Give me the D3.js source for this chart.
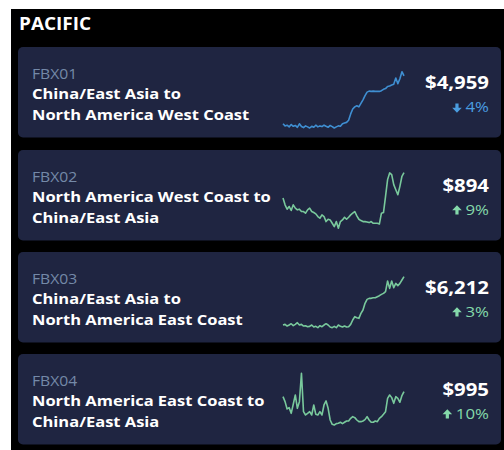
<!DOCTYPE html>
<html>
<head>
<meta charset="utf-8">
<script src="https://cdn.jsdelivr.net/npm/d3@7"></script>
<style>
  body { margin: 0; background: #fff; }
  svg { display: block; }
  text { font-family: "Open Sans", "Noto Sans", sans-serif; }
</style>
</head>
<body>
<div id="chart"></div>
<script>
// lane data
const codes = ["FBX01", "FBX02", "FBX03", "FBX04"];
const titles = [
  ["China/East Asia to", "North America West Coast"],
  ["North America West Coast to", "China/East Asia"],
  ["China/East Asia to", "North America East Coast"],
  ["North America East Coast to", "China/East Asia"]
];
const prices = ["$4,959", "$894", "$6,212", "$995"];
const changes = [-4, 9, 3, 10];

const fbx01 = [1600, 1450, 1500, 1380, 1550, 1420, 1480, 1350, 1600, 1400, 1330, 1450, 1380, 1300, 1420,
  1350, 1500, 1380, 1450, 1400, 1500, 1420, 1350, 1480, 1400, 1300, 1380, 1450, 1420, 1600,
  1650, 1700, 1850, 2300, 2650, 2800, 2880, 2800, 3050, 3300, 3600, 3850, 3920, 3900, 3920,
  3900, 3910, 3900, 3950, 4050, 4100, 4250, 4280, 4350, 4400, 4850, 4450, 4800, 5300, 5000];
const fbx02 = [667, 607, 568, 592, 556, 607, 577, 562, 568, 547, 547, 532, 562, 577, 547,
  538, 526, 502, 487, 517, 502, 457, 478, 472, 442, 412, 457, 397, 457, 472,
  496, 478, 496, 517, 532, 547, 508, 478, 466, 457, 457, 454, 448, 457, 442,
  442, 442, 436, 532, 538, 682, 832, 892, 877, 787, 742, 697, 772, 862, 894];
const fbx03 = [2646, 2695, 2572, 2646, 2744, 2597, 2695, 2818, 2646, 2695, 2572, 2597, 2523, 2548, 2646,
  2498, 2548, 2449, 2597, 2523, 2646, 2744, 2646, 2498, 2449, 2548, 2449, 2646, 2548, 2498,
  2572, 2498, 2523, 2695, 3015, 3261, 3187, 3138, 3507, 3753, 4245, 4540, 4614, 4614, 4663,
  4663, 4737, 4811, 4909, 4983, 5106, 5893, 5352, 5893, 5401, 5721, 5549, 5721, 5967, 6212];
const fbx04 = [922, 850, 745, 764, 682, 812, 946, 754, 850, 1258, 706, 658, 682, 706, 658,
  802, 668, 658, 706, 658, 802, 860, 754, 586, 524, 514, 534, 538, 553, 534,
  553, 572, 572, 610, 634, 620, 586, 562, 562, 572, 591, 634, 586, 553, 553,
  572, 562, 610, 634, 668, 706, 898, 946, 908, 826, 922, 898, 841, 937, 995];
const series = [fbx01, fbx02, fbx03, fbx04];

// layout
const W = 504, H = 450;
const cardTops = [47, 150, 252, 354];
const cardH = 90.5;
const sparkY = [[81, 24.7], [78.3, 22.7], [75.7, 24.7], [71, 19.3]];
const upColor = "#84d9aa", downColor = "#4a9de0";
const lineUp = "#79c99c", lineDown = "#3f8fd2";
const SX = 1.1; // glyphs in the reference are a little wider

const svg = d3.select("#chart").append("svg")
  .attr("width", W)
  .attr("height", H);

// text drawn in a stretched group so widths match
function label(parent, x, y, str, size, opts = {}) {
  return parent.append("text")
    .attr("transform", `translate(${x},${y}) scale(${SX},1)`)
    .attr("text-anchor", opts.anchor || "start")
    .attr("fill", opts.fill || "#fff")
    .attr("font-size", size)
    .attr("font-weight", opts.weight || 400)
    .text(str);
}

svg.append("rect")
  .attr("x", 11).attr("y", 9)
  .attr("width", W - 11).attr("height", H - 9)
  .attr("fill", "#000");

label(svg, 19, 30, "PACIFIC", 17.2, { weight: 700 });

const x = d3.scaleLinear().domain([0, 59]).range([283, 404]);

codes.forEach((code, i) => {
  const top = cardTops[i];
  const g = svg.append("g").attr("transform", `translate(0,${top})`);
  const up = changes[i] > 0;

  g.append("rect")
    .attr("x", 18).attr("y", 0)
    .attr("width", 483).attr("height", cardH)
    .attr("rx", 5)
    .attr("fill", "#1f2541");

  label(g, 32, 32, code, 14.3, { fill: "#7489a8" });

  titles[i].forEach((t, j) => {
    label(g, 32, 52 + j * 20.5, t, 15, { weight: 700 });
  });

  // sparkline
  const data = series[i];
  const y = d3.scaleLinear().domain(d3.extent(data)).range(sparkY[i]);
  const line = d3.line().x((d, k) => x(k)).y(d => y(d));
  g.append("path")
    .datum(data)
    .attr("d", line)
    .attr("fill", "none")
    .attr("stroke", up ? lineUp : lineDown)
    .attr("stroke-width", 1.6)
    .attr("stroke-linejoin", "round");

  label(g, 489, 42, prices[i], 18.5, { anchor: "end", weight: 700 });

  const pct = label(g, 489, 64.5, Math.abs(changes[i]) + "%", 15.3,
    { anchor: "end", fill: up ? upColor : downColor });

  // arrow icon
  const tw = pct.node().getComputedTextLength() * SX;
  const ax = 489 - tw - 8.5, ay = 60.5;
  const arrow = up
    ? `M${ax - 4.8},${ay - 0.3} L${ax},${ay - 5.3} L${ax + 4.8},${ay - 0.3} L${ax + 1.6},${ay - 0.3} L${ax + 1.6},${ay + 4} L${ax - 1.6},${ay + 4} L${ax - 1.6},${ay - 0.3} Z`
    : `M${ax - 4.8},${ay + 0.3} L${ax},${ay + 5.3} L${ax + 4.8},${ay + 0.3} L${ax + 1.6},${ay + 0.3} L${ax + 1.6},${ay - 4} L${ax - 1.6},${ay - 4} L${ax - 1.6},${ay + 0.3} Z`;
  g.append("path")
    .attr("d", arrow)
    .attr("fill", up ? upColor : downColor);
});
</script>
</body>
</html>
